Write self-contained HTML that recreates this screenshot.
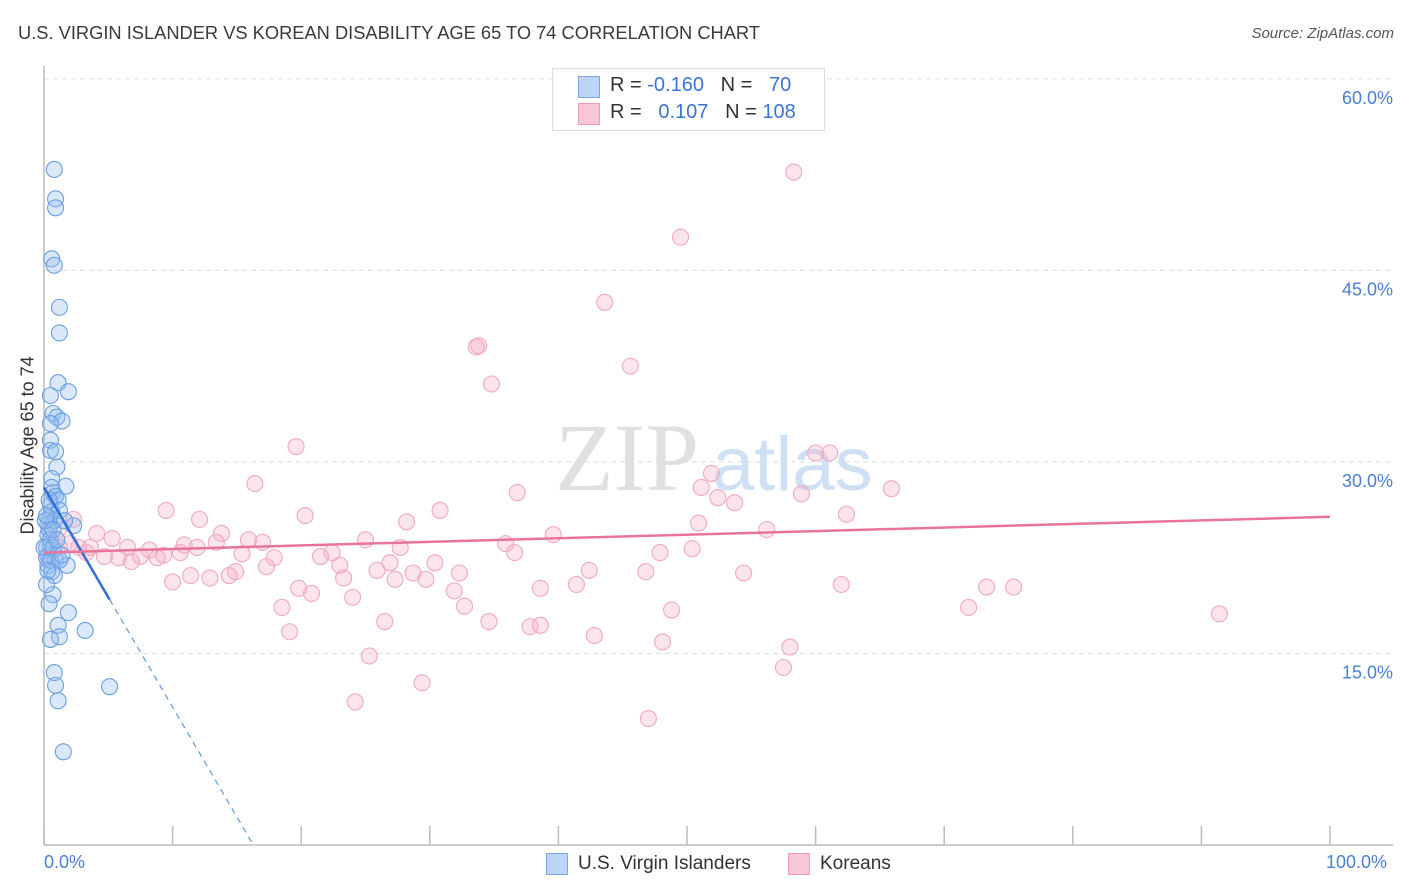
<!DOCTYPE html>
<html><head><meta charset="utf-8">
<style>
body{margin:0;background:#fff;font-family:"Liberation Sans",sans-serif;}
#wrap{position:relative;width:1406px;height:892px;overflow:hidden;}
.t{position:absolute;white-space:nowrap;}
</style></head>
<body>
<div id="wrap">
<div class="t" style="left:18px;top:22px;font-size:18.3px;color:#3a3a3a;">U.S. VIRGIN ISLANDER VS KOREAN DISABILITY AGE 65 TO 74 CORRELATION CHART</div>
<div class="t" style="right:12px;top:25px;font-size:15px;color:#555;font-style:italic;">Source: ZipAtlas.com</div>
<svg id="plot" width="1406" height="892" style="position:absolute;left:0;top:0"></svg>
</div>
<script>
const yTicks=[15,30,45,60];
const yTickLabels=["15.0%","30.0%","45.0%","60.0%"];
const xTickCount=10;
const blueX=[0.8,0.9,0.9,0.6,0.8,1.2,1.2,1.1,1.9,0.5,0.7,1.0,1.4,0.5,0.5,0.5,0.9,1.0,0.6,1.7,0.7,0.9,0.5,0.6,0.4,0.3,0.8,2.3,0.3,0.5,0.7,0.3,0.9,0.3,0.6,1.8,0.7,0.4,1.9,1.1,3.2,1.2,0.5,0.8,0.9,1.1,5.1,1.5,0.6,0.9,0.4,0.5,0.2,0.2,1.1,1.2,0.1,0.5,0.8,0.2,0.7,1.2,1.4,0.2,0.4,0.7,1.0,0.3,0,1.6];
const blueY=[52.9,50.6,49.9,45.9,45.4,42.1,40.1,36.2,35.5,35.2,33.8,33.5,33.2,33.0,31.7,30.9,30.8,29.6,28.7,28.1,27.6,27.3,26.6,26.1,25.6,25.1,25.4,25.0,24.3,23.5,23.1,22.7,22.3,21.9,21.4,21.9,19.6,18.9,18.2,17.2,16.8,16.3,16.1,13.5,12.5,11.3,12.4,7.3,28.0,27.3,24.7,23.9,23.3,22.5,27.0,26.2,25.4,22.3,21.1,20.4,23.3,22.3,22.7,25.8,27.0,24.7,23.9,21.5,23.3,25.4];
const pinkX=[58.3,49.5,43.6,33.6,33.8,45.6,34.8,19.6,16.4,60.0,61.1,51.9,51.1,52.4,53.7,36.8,58.9,65.9,30.8,9.5,20.3,12.1,50.9,62.4,28.2,56.2,13.8,39.6,1.1,4.1,5.3,17.0,15.9,35.9,25.0,27.7,13.4,10.9,11.9,6.5,8.2,10.6,15.4,17.9,21.5,22.4,36.6,50.4,47.9,2.7,3.3,4.7,5.8,7.5,8.8,6.8,9.3,23.0,26.9,30.4,42.4,46.8,54.4,25.9,17.3,32.3,14.9,28.7,23.3,29.7,27.3,10.0,11.4,12.9,14.4,19.8,20.8,24.0,31.9,38.6,41.4,62.0,73.3,75.4,32.7,18.5,48.8,71.9,91.4,26.5,34.6,37.8,38.6,19.1,42.8,48.1,58.0,25.3,57.5,29.4,24.2,47.0,2.0,3.6,2.3,1.2];
const pinkY=[52.7,47.6,42.5,39.0,39.1,37.5,36.1,31.2,28.3,30.7,30.7,29.1,28.0,27.2,26.8,27.6,27.5,27.9,26.2,26.2,25.8,25.5,25.2,25.9,25.3,24.7,24.4,24.3,24.7,24.4,24.0,23.7,23.9,23.6,23.9,23.3,23.7,23.5,23.3,23.3,23.1,22.9,22.8,22.5,22.6,22.9,22.9,23.2,22.9,23.3,22.9,22.6,22.5,22.6,22.5,22.2,22.7,21.9,22.1,22.1,21.5,21.4,21.3,21.5,21.8,21.3,21.4,21.3,20.9,20.8,20.8,20.6,21.1,20.9,21.1,20.1,19.7,19.4,19.9,20.1,20.4,20.4,20.2,20.2,18.7,18.6,18.4,18.6,18.1,17.5,17.5,17.1,17.2,16.7,16.4,15.9,15.5,14.8,13.9,12.7,11.2,9.9,23.6,23.3,25.5,23.3];
const blueTrend=[28.0,-1.72];   // intercept, slope
const pinkTrend=[22.9,0.028];

const NS="http://www.w3.org/2000/svg";
const svg=document.getElementById('plot');
const X0=44,X1=1330,Y0=845,PY=12.77;
const sx=v=>X0+v*(X1-X0)/100;
const sy=v=>Y0-v*PY;
function mk(tag,attrs){const e=document.createElementNS(NS,tag);for(const k in attrs)e.setAttribute(k,attrs[k]);svg.appendChild(e);return e;}
yTicks.forEach((t,i)=>{
  const g=mk('line',{x1:X0,x2:1393,y1:sy(t),y2:sy(t),stroke:'#dcdcdc','stroke-dasharray':'5,4'});
  
  
  const l=mk('text',{x:1393,y:sy(t)+25,'text-anchor':'end','font-size':18,fill:'#4a7fd4','font-family':'Liberation Sans'});
  l.textContent=yTickLabels[i];
  
  
});
const ya=mk('line',{x1:X0,x2:X0,y1:66,y2:Y0,stroke:'#bbb','stroke-width':1.5});


const xa=mk('line',{x1:X0,x2:1393,y1:Y0,y2:Y0,stroke:'#bbb','stroke-width':1.5});


for(let i=0;i<=xTickCount;i++){
  const x=sx(i*100/xTickCount);
  const tk=mk('line',{x1:x,x2:x,y1:826,y2:Y0,stroke:'#bbb','stroke-width':1.5});
  
  
}
const wm=mk('text',{x:555,y:490,'font-size':96,fill:'#e0e0e0','font-family':'Liberation Serif'});
wm.textContent='ZIP';


const wm2=mk('text',{x:712,y:490,'font-size':76,fill:'#cfe0f4','font-family':'Liberation Sans'});
wm2.textContent='atlas';


pinkX.forEach((v,i)=>{
  const c=mk('circle',{cx:sx(v),cy:sy(pinkY[i]),r:8,fill:'rgba(246,170,196,0.32)',stroke:'#f2a8c1','stroke-width':1.1});
  
  
});
blueX.forEach((v,i)=>{
  const c=mk('circle',{cx:sx(v),cy:sy(blueY[i]),r:8,fill:'rgba(150,190,240,0.35)',stroke:'#6a9fe2','stroke-width':1.1});
  
  
});
const bx1=5.1, bxEnd=-blueTrend[0]/blueTrend[1];
const bl=mk('line',{x1:sx(0),y1:sy(blueTrend[0]),x2:sx(bx1),y2:sy(blueTrend[0]+blueTrend[1]*bx1),stroke:'#2f6fd6','stroke-width':2.5});


const bd=mk('line',{x1:sx(bx1),y1:sy(blueTrend[0]+blueTrend[1]*bx1),x2:sx(bxEnd),y2:sy(0),stroke:'#5f98e0','stroke-width':1.2,'stroke-dasharray':'6,5'});


const pl=mk('line',{x1:sx(0),y1:sy(pinkTrend[0]),x2:sx(100),y2:sy(pinkTrend[0]+pinkTrend[1]*100),stroke:'#e8749c','stroke-width':2.5});


</script>
<div class="t" style="left:-52px;top:444px;font-size:18px;color:#333;transform:rotate(-90deg);transform-origin:center;width:160px;text-align:center;">Disability Age 65 to 74</div>
<div class="t" style="left:44px;top:852px;font-size:18px;color:#4a7fd4;">0.0%</div>
<div class="t" style="left:1326px;top:852px;font-size:18px;color:#4a7fd4;">100.0%</div>
<div style="position:absolute;left:552px;top:68px;width:271px;height:61px;border:1px solid #ddd;background:#fff;font-size:20px;color:#333;">
  <div style="position:absolute;left:25px;top:7px;width:20px;height:20px;background:#bcd5f6;border:1px solid #7aa7e4;"></div>
  <div class="t" style="left:57px;top:5px;">R = <span style="color:#3a75d6">-0.160</span>&nbsp;&nbsp;&nbsp;N = &nbsp;&nbsp;<span style="color:#3a75d6">70</span></div>
  <div style="position:absolute;left:25px;top:34px;width:20px;height:20px;background:#f9c6d6;border:1px solid #ef9bb7;"></div>
  <div class="t" style="left:57px;top:32px;">R = &nbsp;&nbsp;<span style="color:#3a75d6">0.107</span>&nbsp;&nbsp;&nbsp;N = <span style="color:#3a75d6">108</span></div>
</div>
<div style="position:absolute;left:546px;top:853px;font-size:19px;color:#333;">
  <div style="position:absolute;left:0;top:0;width:20px;height:20px;background:#bcd5f6;border:1px solid #7aa7e4;"></div>
  <div class="t" style="left:32px;top:0;">U.S. Virgin Islanders</div>
  <div style="position:absolute;left:242px;top:0;width:20px;height:20px;background:#f9c6d6;border:1px solid #ef9bb7;"></div>
  <div class="t" style="left:274px;top:0;">Koreans</div>
</div>
</body></html>
